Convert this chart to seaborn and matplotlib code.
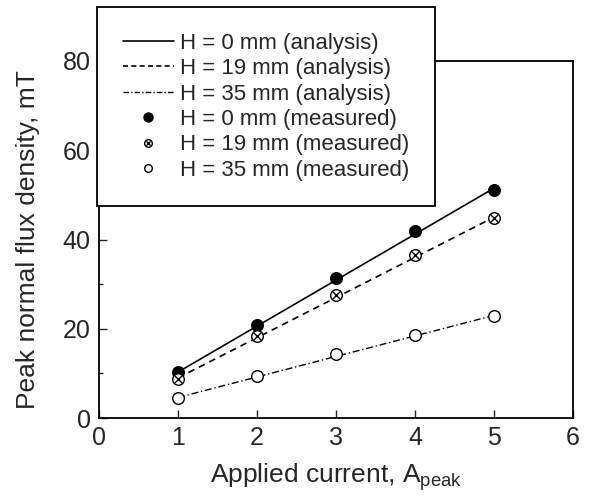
import seaborn as sns
import matplotlib.pyplot as plt
from matplotlib.lines import Line2D

current = [1, 2, 3, 4, 5]

# analysis (lines)
calc_h0 = [10.3, 20.6, 30.9, 41.2, 51.5]
calc_h19 = [9.0, 18.0, 27.0, 36.0, 45.0]
calc_h35 = [4.6, 9.2, 13.8, 18.4, 23.0]

# measured (markers)
meas_h0 = [10.2, 20.8, 31.4, 41.9, 51.0]
meas_h19 = [8.8, 18.4, 27.5, 36.5, 44.8]
meas_h35 = [4.5, 9.5, 14.3, 18.5, 22.8]

sns.set_style('ticks')
plt.rcParams['font.family'] = ['Liberation Sans', 'DejaVu Sans']
plt.rcParams['xtick.direction'] = 'in'
plt.rcParams['ytick.direction'] = 'in'

fig = plt.figure(figsize=(5.94, 5.04), dpi=100)
ax = fig.add_axes([0.1667, 0.1706, 0.798, 0.7084])

sns.lineplot(x=current, y=calc_h0, ax=ax, color='k', linewidth=1.2, linestyle='-')
sns.lineplot(x=current, y=calc_h19, ax=ax, color='k', linewidth=1.2, linestyle=(0, (4, 3)))
sns.lineplot(x=current, y=calc_h35, ax=ax, color='k', linewidth=1.0, linestyle=(0, (5, 2, 1, 2)))

msize = 70
sns.scatterplot(x=current, y=meas_h0, ax=ax, s=msize, color='k', edgecolor='k', linewidth=1, zorder=5)
sns.scatterplot(x=current, y=meas_h19, ax=ax, s=msize, facecolor='white', edgecolor='k', linewidth=1, zorder=5)
sns.scatterplot(x=current, y=meas_h19, ax=ax, s=32, marker='x', color='k', linewidth=1, zorder=6)
sns.scatterplot(x=current, y=meas_h35, ax=ax, s=msize, facecolor='white', edgecolor='k', linewidth=1, zorder=5)

ax.set_xlim(0, 6)
ax.set_ylim(0, 80)
ax.set_xticks(range(0, 7))
ax.set_yticks(range(0, 81, 20))
ax.set_yticks([10, 30, 50, 70], minor=True)
ax.tick_params(axis='both', which='major', labelsize=18, length=6, width=1, pad=6)
ax.tick_params(axis='both', which='minor', length=3, width=1)
for sp in ax.spines.values():
    sp.set_linewidth(1.3)
    sp.set_color('k')

ax.set_xlabel(r'Applied current, A$_{\mathregular{peak}}$', fontsize=19, labelpad=8)
ax.set_ylabel('Peak normal flux density, mT', fontsize=19, labelpad=16)

h_line0 = Line2D([], [], color='k', linewidth=1.2, linestyle='-')
h_line19 = Line2D([], [], color='k', linewidth=1.2, linestyle=(0, (3, 2)))
h_line35 = Line2D([], [], color='k', linewidth=1.0, linestyle=(0, (4, 1.5, 1, 1.5)))
h_m0 = Line2D([], [], color='k', marker='o', markersize=6.5, linestyle='')
h_m19a = Line2D([], [], markerfacecolor='white', markeredgecolor='k', marker='o', markersize=5.5, linestyle='')
h_m19b = Line2D([], [], color='k', marker='x', markersize=3.5, linestyle='')
h_m35 = Line2D([], [], markerfacecolor='white', markeredgecolor='k', marker='o', markersize=5.5, linestyle='')

labels = ['H = 0 mm (analysis)', 'H = 19 mm (analysis)', 'H = 35 mm (analysis)',
          'H = 0 mm (measured)', 'H = 19 mm (measured)', 'H = 35 mm (measured)']
leg = ax.legend([h_line0, h_line19, h_line35, h_m0, (h_m19a, h_m19b), h_m35], labels,
                loc='upper left', bbox_to_anchor=(-0.004, 1.151), fontsize=16,
                frameon=True, fancybox=False, framealpha=1, edgecolor='k',
                handlelength=2.3, handletextpad=0.3, labelspacing=0.2,
                borderpad=1.15, borderaxespad=0)
leg.get_frame().set_linewidth(1.3)
leg.set_zorder(10)

fig.savefig('out.png', dpi=100)
